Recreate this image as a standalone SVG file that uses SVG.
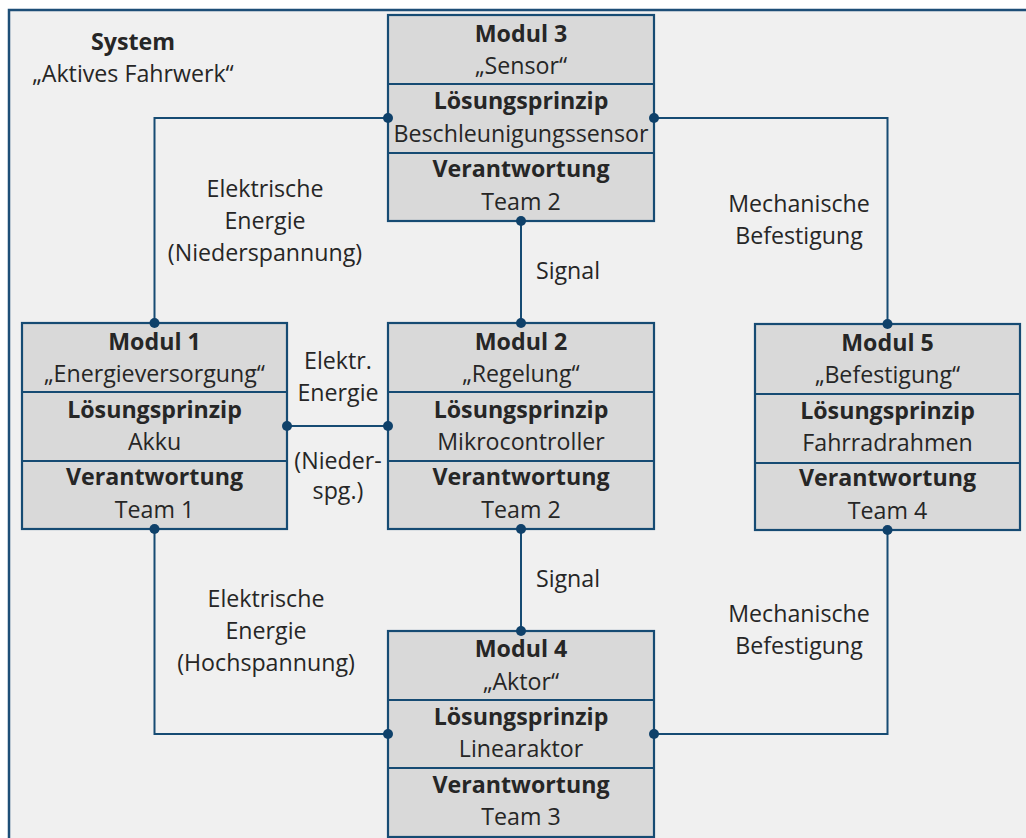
<svg xmlns="http://www.w3.org/2000/svg" width="1026" height="838" viewBox="0 0 1026 838">
  <defs>
    <style>
      .frame { fill: #f0f0f0; stroke: #1d4e77; stroke-width: 2.5; }
      .box { fill: #d9d9d9; stroke: #164b73; stroke-width: 2.2; }
      .div { stroke: #164b73; stroke-width: 2.2; }
      .wire { fill: none; stroke: #164b73; stroke-width: 2; }
      .dot { fill: #0f416a; }
      text { font-family: "Open Sans", "Liberation Sans", sans-serif; font-size: 23.2px; fill: #262626; text-anchor: middle; }
      .b { font-weight: bold; }
    </style>
  </defs>

  <!-- system boundary -->
  <rect class="frame" x="9" y="10" width="1030" height="840"/>
  <g id="system-label">
    <text class="b" x="133" y="50">System</text>
    <text x="133" y="82">„Aktives Fahrwerk“</text>
  </g>

  <!-- Modul 3 -->
  <g id="modul3">
    <rect class="box" x="388" y="15" width="266" height="206"/>
    <line class="div" x1="388" y1="84" x2="654" y2="84"/>
    <line class="div" x1="388" y1="153" x2="654" y2="153"/>
    <text class="b" x="521" y="42">Modul 3</text>
    <text x="521" y="74">„Sensor“</text>
    <text class="b" x="521" y="109">Lösungsprinzip</text>
    <text x="521" y="142">Beschleunigungssensor</text>
    <text class="b" x="521" y="177">Verantwortung</text>
    <text x="521" y="210">Team 2</text>
  </g>

  <!-- Modul 1 -->
  <g id="modul1">
    <rect class="box" x="22" y="323" width="265" height="206"/>
    <line class="div" x1="22" y1="392" x2="287" y2="392"/>
    <line class="div" x1="22" y1="461" x2="287" y2="461"/>
    <text class="b" x="154.5" y="350">Modul 1</text>
    <text x="154.5" y="382">„Energieversorgung“</text>
    <text class="b" x="154.5" y="418">Lösungsprinzip</text>
    <text x="154.5" y="450">Akku</text>
    <text class="b" x="154.5" y="485">Verantwortung</text>
    <text x="154.5" y="518">Team 1</text>
  </g>

  <!-- Modul 2 -->
  <g id="modul2">
    <rect class="box" x="388" y="323" width="266" height="206"/>
    <line class="div" x1="388" y1="392" x2="654" y2="392"/>
    <line class="div" x1="388" y1="461" x2="654" y2="461"/>
    <text class="b" x="521" y="350">Modul 2</text>
    <text x="521" y="382">„Regelung“</text>
    <text class="b" x="521" y="418">Lösungsprinzip</text>
    <text x="521" y="450">Mikrocontroller</text>
    <text class="b" x="521" y="485">Verantwortung</text>
    <text x="521" y="518">Team 2</text>
  </g>

  <!-- Modul 5 -->
  <g id="modul5">
    <rect class="box" x="755" y="324" width="265" height="206"/>
    <line class="div" x1="755" y1="394" x2="1020" y2="394"/>
    <line class="div" x1="755" y1="463" x2="1020" y2="463"/>
    <text class="b" x="887.5" y="351">Modul 5</text>
    <text x="887.5" y="383">„Befestigung“</text>
    <text class="b" x="887.5" y="419">Lösungsprinzip</text>
    <text x="887.5" y="451">Fahrradrahmen</text>
    <text class="b" x="887.5" y="486">Verantwortung</text>
    <text x="887.5" y="519">Team 4</text>
  </g>

  <!-- Modul 4 -->
  <g id="modul4">
    <rect class="box" x="388" y="631" width="266" height="206"/>
    <line class="div" x1="388" y1="700" x2="654" y2="700"/>
    <line class="div" x1="388" y1="768" x2="654" y2="768"/>
    <text class="b" x="521" y="657">Modul 4</text>
    <text x="521" y="690">„Aktor“</text>
    <text class="b" x="521" y="725">Lösungsprinzip</text>
    <text x="521" y="757">Linearaktor</text>
    <text class="b" x="521" y="793">Verantwortung</text>
    <text x="521" y="825">Team 3</text>
  </g>

  <!-- interfaces between modules, drawn over the box borders -->
  <g id="connectors">
    <polyline class="wire" points="388,118 154.5,118 154.5,323"/>
    <polyline class="wire" points="654,118 887.5,118 887.5,324"/>
    <line class="wire" x1="521" y1="221" x2="521" y2="323"/>
    <line class="wire" x1="287" y1="426" x2="388" y2="426"/>
    <line class="wire" x1="521" y1="529" x2="521" y2="631"/>
    <polyline class="wire" points="154.5,529 154.5,734 388,734"/>
    <polyline class="wire" points="887.5,530 887.5,734 654,734"/>

    <circle class="dot" cx="388" cy="118" r="5"/>
    <circle class="dot" cx="154.5" cy="323" r="5"/>
    <circle class="dot" cx="654" cy="118" r="5"/>
    <circle class="dot" cx="887.5" cy="324" r="5"/>
    <circle class="dot" cx="521" cy="221" r="5"/>
    <circle class="dot" cx="521" cy="323" r="5"/>
    <circle class="dot" cx="287" cy="426" r="5"/>
    <circle class="dot" cx="388" cy="426" r="5"/>
    <circle class="dot" cx="521" cy="529" r="5"/>
    <circle class="dot" cx="521" cy="631" r="5"/>
    <circle class="dot" cx="154.5" cy="529" r="5"/>
    <circle class="dot" cx="388" cy="734" r="5"/>
    <circle class="dot" cx="887.5" cy="530" r="5"/>
    <circle class="dot" cx="654" cy="734" r="5"/>

    <text x="265" y="197">Elektrische</text>
    <text x="265" y="229">Energie</text>
    <text x="265" y="261">(Niederspannung)</text>

    <text x="799" y="212">Mechanische</text>
    <text x="799" y="244">Befestigung</text>

    <text x="568" y="279">Signal</text>
    <text x="568" y="587">Signal</text>

    <text x="338" y="369">Elektr.</text>
    <text x="338" y="401">Energie</text>
    <text x="338" y="469">(Nieder-</text>
    <text x="338" y="499">spg.)</text>

    <text x="266" y="607">Elektrische</text>
    <text x="266" y="639">Energie</text>
    <text x="266" y="671">(Hochspannung)</text>

    <text x="799" y="622">Mechanische</text>
    <text x="799" y="654">Befestigung</text>
  </g>
</svg>
